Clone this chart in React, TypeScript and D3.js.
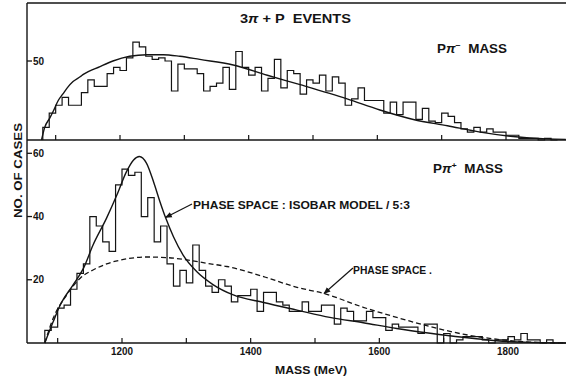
import React from "react";
import * as d3 from "d3";

const W = 566;
const H = 381;

// Histogram binning (MeV)
const binStart = 1080;
const binWidth = 10;

// Counts per 10 MeV bin, Pπ⁻ combinations
const pPiMinusCounts = [
  8, 17, 22, 27, 22, 22, 30, 38, 34, 34,
  42, 46, 44, 52, 62, 59, 53, 51, 52, 50,
  31, 48, 45, 45, 42, 31, 34, 36, 46, 32,
  56, 46, 41, 46, 31, 39, 51, 33, 44, 42,
  29, 38, 36, 41, 31, 40, 36, 22, 26, 33,
  25, 25, 25, 17, 24, 16, 24, 24, 13, 20,
  12, 11, 17, 15, 11, 7, 5, 8, 5, 7,
  5, 5, 3, 3, 1, 1, 1, 0, 1, 0,
];

// Counts per 10 MeV bin, Pπ⁺ combinations
const pPiPlusCounts = [
  4, 5, 11, 12, 17, 22, 25, 40, 37, 32,
  29, 50, 55, 53, 54, 40, 46, 32, 37, 25,
  18, 23, 19, 31, 23, 18, 16, 20, 18, 13,
  15, 15, 17, 10, 16, 16, 13, 12, 10, 10,
  13, 10, 10, 12, 12, 6, 11, 10, 7, 7,
  10, 8, 8, 4, 6, 5, 5, 5, 3, 6,
  6, 0, 3, 0, 1, 2, 2, 2, 1, 0,
  1, 1, 2, 1, 3, 1, 1, 0, 1, 0,
];

// Phase-space curve for Pπ⁻ (mass, cases)
const pPiMinusPhaseSpace: [number, number][] = [
  [1078, 0], [1083, 8], [1091, 14], [1096, 18], [1104, 25], [1111, 29],
  [1118, 33], [1127, 37], [1138, 40], [1143, 41.5], [1169, 46.5],
  [1189, 50], [1215, 53], [1242, 54], [1267, 54], [1293, 53], [1324, 51],
  [1376, 47.5], [1429, 41], [1480, 35], [1553, 26], [1604, 19],
  [1656, 13], [1709, 9], [1760, 5], [1811, 2.2], [1864, 0.7], [1893, 0.4],
];

// Phase space : isobar model / 5:3 for Pπ⁺
const isobarModel: [number, number][] = [
  [1080, 0], [1093, 6.7], [1104, 12], [1124, 18.4], [1140, 23.6],
  [1155, 31], [1176, 39.5], [1192, 46.8], [1207, 54.2], [1218, 57.9],
  [1227, 59], [1238, 56.9], [1249, 51], [1259, 44.7], [1268, 39.5],
  [1280, 33.6], [1295, 27.8], [1316, 22.6], [1342, 18.4], [1373, 15.2],
  [1420, 12.8], [1472, 10.4], [1523, 8.1], [1575, 6.4], [1627, 4.6],
  [1679, 3.1], [1730, 1.8], [1782, 0.7], [1834, 0.2], [1890, 0],
];

// Pure phase space for Pπ⁺
const pPiPlusPhaseSpace: [number, number][] = [
  [1080, 0], [1093, 7.8], [1114, 15.2], [1135, 20.5], [1155, 23.1],
  [1176, 25], [1207, 26.6], [1238, 27.2], [1270, 27], [1301, 26.3],
  [1332, 25.2], [1363, 24.2], [1420, 21], [1472, 17.6], [1513, 15.7],
  [1575, 11.3], [1627, 8.1], [1679, 5.2], [1730, 2.8], [1782, 1.2],
  [1834, 0.3], [1890, 0],
];

const massTicks = [1100, 1200, 1300, 1400, 1500, 1600, 1700, 1800];
const massLabels = [1200, 1400, 1600, 1800];
const topCountTicks = [50];
const bottomCountTicks = [20, 40, 60];

const INK = "#141414";
const FONT = "'Liberation Sans', Arial, sans-serif";

const xBottom = d3.scaleLinear().domain([1200, 1800]).range([122, 508]);
const xTop = d3.scaleLinear().domain([1200, 1800]).range([120, 506]);
const yTop = d3.scaleLinear().domain([0, 50]).range([140, 61]);
const yBottom = d3.scaleLinear().domain([0, 60]).range([343, 153.3]);

const axisLeft = 27;
const plotRight = 566;

function histogramPath(
  counts: number[],
  x: d3.ScaleLinear<number, number>,
  y: d3.ScaleLinear<number, number>
) {
  const pts: [number, number][] = [[binStart, 0]];
  counts.forEach((c, i) => pts.push([binStart + (i + 1) * binWidth, c]));
  return d3
    .line<[number, number]>()
    .x((d) => x(d[0]))
    .y((d) => y(d[1]))
    .curve(d3.curveStepBefore)(pts) as string;
}

function curvePath(
  pts: [number, number][],
  x: d3.ScaleLinear<number, number>,
  y: d3.ScaleLinear<number, number>
) {
  return d3
    .line<[number, number]>()
    .x((d) => x(d[0]))
    .y((d) => y(d[1]))
    .curve(d3.curveMonotoneX)(pts) as string;
}

export default function App() {
  const bold = { fontFamily: FONT, fontWeight: 700, fill: INK } as const;
  return (
    <svg
      width={W}
      height={H}
      viewBox={`0 0 ${W} ${H}`}
      style={{ position: "absolute", left: 0, top: 0, background: "#fff" }}
    >
      <defs>
        <marker
          id="arrowHead"
          viewBox="0 0 10 10"
          refX="9"
          refY="5"
          markerWidth="7"
          markerHeight="7"
          markerUnits="userSpaceOnUse"
          orient="auto"
        >
          <path d="M0,1 L10,5 L0,9 Z" fill={INK} />
        </marker>
      </defs>
      <rect x={0} y={0} width={W} height={H} fill="#fff" />

      {/* frame */}
      <line x1={axisLeft} y1={3} x2={plotRight} y2={3} stroke={INK} strokeWidth={1.6} />
      <line x1={axisLeft} y1={3} x2={axisLeft} y2={343} stroke={INK} strokeWidth={1.4} />
      <line x1={axisLeft} y1={140} x2={plotRight} y2={140} stroke={INK} strokeWidth={1.4} />
      <line x1={axisLeft} y1={343} x2={plotRight} y2={343} stroke={INK} strokeWidth={1.4} />

      {/* mass ticks */}
      {massTicks.map((m) => (
        <line key={`tt${m}`} x1={xTop(m)} x2={xTop(m)} y1={140} y2={135} stroke={INK} strokeWidth={1.2} />
      ))}
      {massTicks.map((m) => (
        <line key={`bt${m}`} x1={xBottom(m)} x2={xBottom(m)} y1={343} y2={338} stroke={INK} strokeWidth={1.2} />
      ))}
      {massLabels.map((m) => (
        <text
          key={`bl${m}`}
          x={xBottom(m)}
          y={355}
          textAnchor="middle"
          fontSize={10}
          textLength={22}
          lengthAdjust="spacingAndGlyphs"
          {...bold}
        >
          {m}
        </text>
      ))}

      {/* count ticks */}
      {topCountTicks.map((c) => (
        <g key={`tc${c}`}>
          <line x1={axisLeft} x2={axisLeft + 5} y1={yTop(c)} y2={yTop(c)} stroke={INK} strokeWidth={1.3} />
          <text x={axisLeft + 6} y={yTop(c) + 3.6} fontSize={10} {...bold}>
            {c}
          </text>
        </g>
      ))}
      {bottomCountTicks.map((c) => (
        <g key={`bc${c}`}>
          <line x1={axisLeft} x2={axisLeft + 5} y1={yBottom(c)} y2={yBottom(c)} stroke={INK} strokeWidth={1.3} />
          <text x={axisLeft + 6} y={yBottom(c) + 3.6} fontSize={10} {...bold}>
            {c}
          </text>
        </g>
      ))}

      {/* histograms */}
      <path d={histogramPath(pPiMinusCounts, xTop, yTop)} fill="none" stroke={INK} strokeWidth={1.2} />
      <path d={histogramPath(pPiPlusCounts, xBottom, yBottom)} fill="none" stroke={INK} strokeWidth={1.2} />

      {/* fitted curves */}
      <path d={curvePath(pPiMinusPhaseSpace, xTop, yTop)} fill="none" stroke={INK} strokeWidth={1.4} />
      <path d={curvePath(isobarModel, xBottom, yBottom)} fill="none" stroke={INK} strokeWidth={1.4} />
      <path
        d={curvePath(pPiPlusPhaseSpace, xBottom, yBottom)}
        fill="none"
        stroke={INK}
        strokeWidth={1.3}
        strokeDasharray="5 3"
      />

      {/* annotations */}
      <text x={240} y={23} fontSize={12.5} textLength={111} lengthAdjust="spacingAndGlyphs" style={{ whiteSpace: "pre" }} {...bold}>
        3<tspan fontStyle="italic">π</tspan> + P  EVENTS
      </text>
      <text x={437} y={52.5} fontSize={12} textLength={70} lengthAdjust="spacingAndGlyphs" style={{ whiteSpace: "pre" }} {...bold}>
        P<tspan fontStyle="italic">π</tspan>
        <tspan dy={-5} fontSize={8}>−</tspan>
        <tspan dy={5}>  MASS</tspan>
      </text>
      <text x={433} y={172.5} fontSize={12} textLength={70} lengthAdjust="spacingAndGlyphs" style={{ whiteSpace: "pre" }} {...bold}>
        P<tspan fontStyle="italic">π</tspan>
        <tspan dy={-5} fontSize={8}>+</tspan>
        <tspan dy={5}>  MASS</tspan>
      </text>
      <text x={193} y={209} fontSize={11} textLength={217} lengthAdjust="spacingAndGlyphs" style={{ whiteSpace: "pre" }} {...bold}>
        PHASE SPACE : ISOBAR MODEL / 5:3
      </text>
      <text x={353} y={274} fontSize={11} textLength={79} lengthAdjust="spacingAndGlyphs" style={{ whiteSpace: "pre" }} {...bold}>
        PHASE SPACE .
      </text>
      <line x1={192} y1={204} x2={165.5} y2={217.5} stroke={INK} strokeWidth={1.2} markerEnd="url(#arrowHead)" />
      <line x1={353} y1={268} x2={324} y2={293.5} stroke={INK} strokeWidth={1.2} markerEnd="url(#arrowHead)" />

      {/* axis titles */}
      <text x={311} y={374} fontSize={11} textAnchor="middle" textLength={72} lengthAdjust="spacingAndGlyphs" {...bold}>
        MASS (MeV)
      </text>
      <text
        transform="translate(21.5,170.5) rotate(-90)"
        x={0}
        y={0}
        fontSize={11.5}
        textAnchor="middle"
        textLength={95}
        lengthAdjust="spacingAndGlyphs"
        {...bold}
      >
        NO. OF CASES
      </text>
    </svg>
  );
}
